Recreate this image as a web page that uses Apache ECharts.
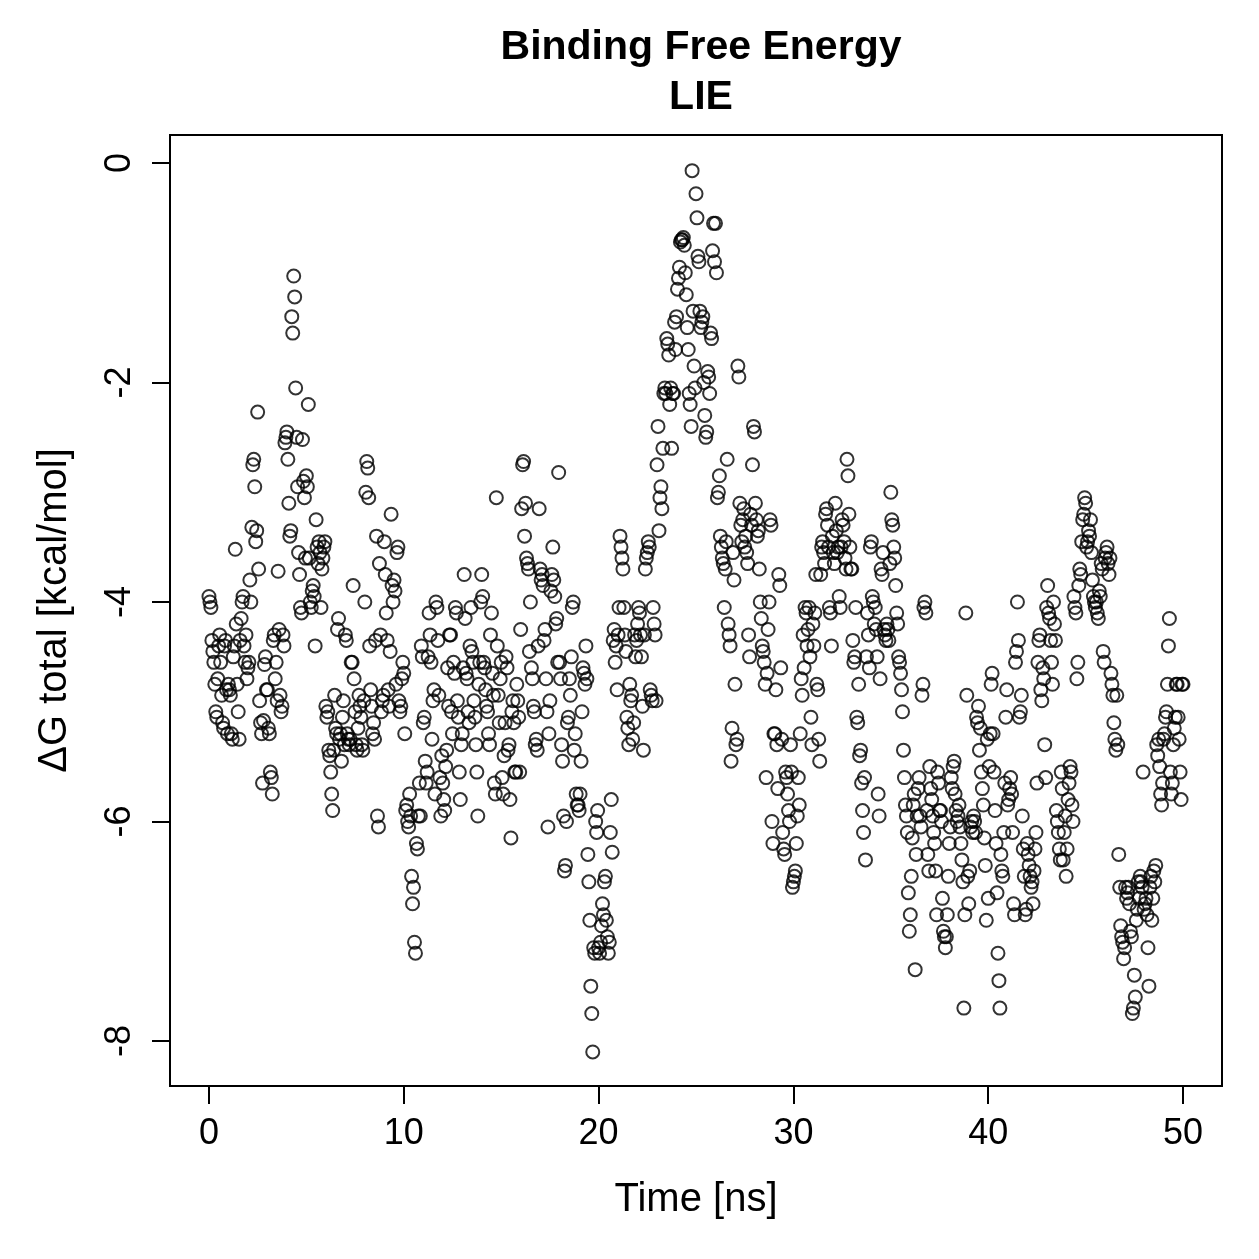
<!DOCTYPE html>
<html>
<head>
<meta charset="utf-8">
<script src="https://cdn.jsdelivr.net/npm/echarts@6/dist/echarts.min.js"></script>
<style>
  html, body { margin: 0; padding: 0; background: #fff; }
  #chart { width: 1259px; height: 1259px; }
</style>
</head>
<body>
<div id="chart"></div>
<script>
// sampling step of the trajectory (ns)
const timeStep = 0.05

// ΔG total [kcal/mol], 20 frames per ns
const dg0to10 = [
  -3.95,-4.0,-4.05,-4.35,-4.45,-4.55,-4.75,-5.0,-5.05,-4.7,-4.4,-4.3,-4.55,-4.85,-5.1,-5.15,-4.4,-4.35,-4.8,-5.2,
  -4.75,-4.8,-4.85,-5.2,-5.25,-4.5,-4.4,-3.52,-4.2,-4.75,-5.0,-5.25,-4.35,-4.15,-4.0,-3.95,-4.4,-4.55,-4.3,-4.7,
  -4.6,-4.55,-3.8,-4.0,-3.32,-2.75,-2.7,-2.95,-3.45,-3.35,-2.27,-3.7,-4.9,-5.1,-5.2,-5.65,-5.08,-4.57,-4.5,-4.8,
  -4.8,-5.15,-5.2,-5.55,-5.6,-5.75,-4.35,-4.3,-4.7,-4.55,-4.9,-3.72,-4.25,-4.85,-5.0,-4.95,-4.3,-4.4,-2.55,-2.5,
  -2.45,-2.7,-3.1,-3.4,-3.35,-1.4,-1.55,-1.03,-1.22,-2.05,-2.5,-2.95,-3.55,-3.75,-4.05,-4.1,-2.52,-2.9,-3.05,-3.6,
  -2.85,-2.95,-2.2,-3.6,-4.0,-4.05,-3.9,-3.85,-3.95,-4.4,-3.25,-3.5,-3.65,-3.45,-3.55,-4.05,-3.7,-3.6,-3.5,-3.45,
  -4.95,-5.05,-5.0,-5.35,-5.4,-5.55,-5.75,-5.9,-5.35,-4.85,-5.15,-5.2,-4.25,-4.15,-5.25,-5.2,-5.45,-5.05,-4.9,-5.3,
  -4.3,-4.35,-5.2,-5.25,-5.3,-5.25,-4.55,-4.55,-3.85,-4.7,-5.0,-5.3,-5.35,-5.15,-4.85,-4.95,-5.05,-5.3,-5.35,-4.9,
  -4.0,-3.0,-2.72,-2.78,-3.05,-4.4,-4.8,-4.95,-5.2,-5.1,-5.25,-4.35,-3.4,-5.95,-6.05,-3.65,-4.3,-5.0,-4.9,-4.85,
  -3.45,-3.75,-4.1,-4.35,-4.8,-4.95,-4.45,-3.2,-3.85,-4.0,-3.8,-3.9,-4.75,-3.55,-3.5,-4.9,-5.0,-4.95,-4.7,-4.55
]
const dg10to20 = [
  -4.65,-5.2,-5.9,-5.85,-6.0,-6.05,-5.75,-5.95,-6.5,-6.75,-6.6,-7.1,-7.2,-6.2,-6.25,-5.95,-5.65,-5.95,-4.4,-4.5,
  -5.1,-5.05,-5.45,-5.65,-5.55,-4.5,-4.1,-4.3,-4.55,-5.25,-4.9,-4.8,-5.75,-4.0,-4.05,-4.35,-4.85,-5.6,-5.95,-5.4,
  -5.65,-5.8,-5.9,-5.5,-5.35,-4.6,-4.95,-4.3,-4.3,-5.0,-5.2,-4.55,-4.65,-4.05,-4.1,-4.9,-5.05,-5.55,-5.8,-5.3,
  -5.2,-4.6,-3.75,-4.15,-4.65,-4.7,-5.0,-5.1,-4.4,-4.05,-4.45,-4.55,-4.9,-5.05,-5.3,-5.55,-5.95,-4.75,-4.55,-4.0,
  -3.75,-3.95,-4.55,-4.6,-4.8,-4.95,-5.0,-5.2,-5.3,-4.3,-4.1,-4.65,-4.85,-5.65,-5.75,-3.05,-4.4,-4.85,-5.1,-4.7,
  -4.55,-5.6,-5.75,-5.4,-5.1,-4.5,-4.6,-5.35,-5.3,-5.8,-6.15,-5.0,-4.9,-5.1,-5.55,-5.55,-4.75,-4.9,-5.05,-5.55,
  -4.25,-3.15,-2.75,-2.72,-3.4,-3.1,-3.6,-3.65,-3.7,-4.45,-4.0,-4.6,-4.7,-4.95,-5.0,-5.3,-5.25,-5.35,-4.4,-3.15,
  -3.7,-3.8,-3.75,-3.85,-4.35,-4.25,-4.7,-5.0,-6.05,-5.2,-4.9,-3.9,-3.75,-3.5,-3.8,-3.95,-4.2,-4.15,-4.55,-2.82,
  -4.55,-4.7,-5.3,-5.45,-5.95,-6.45,-6.4,-6.0,-5.1,-5.05,-4.7,-4.85,-4.5,-4.05,-4.0,-5.35,-5.2,-5.75,-5.85,-5.85,
  -5.9,-5.75,-5.45,-5.0,-4.6,-4.65,-4.75,-4.4,-4.7,-6.3,-6.55,-6.9,-7.5,-7.75,-8.1,-7.15,-7.2,-6.0,-6.1,-5.9
]
const dg20to30 = [
  -7.15,-7.2,-7.1,-6.95,-6.75,-6.85,-6.55,-6.5,-6.9,-7.05,-7.2,-7.1,-6.1,-5.8,-6.28,-4.35,-4.25,-4.55,-4.4,-4.8,
  -4.3,-4.05,-3.4,-3.5,-3.6,-3.7,-4.05,-4.3,-4.45,-5.05,-5.15,-5.3,-4.75,-4.9,-4.85,-5.25,-5.1,-4.3,-4.5,-4.35,
  -4.2,-4.05,-4.1,-4.3,-4.5,-4.95,-5.35,-4.3,-3.7,-3.6,-3.55,-3.45,-3.5,-4.8,-4.85,-4.9,-4.05,-4.2,-4.3,-4.9,
  -2.75,-2.4,-3.35,-3.05,-2.95,-3.15,-2.6,-2.1,-2.05,-2.1,-1.6,-1.65,-1.75,-2.2,-2.05,-2.6,-2.1,-2.1,-1.45,-1.7,
  -1.4,-1.15,-1.05,-0.95,-0.72,-0.7,-0.7,-0.68,-0.75,-1.0,-1.2,-1.5,-1.7,-2.1,-2.2,-2.4,-0.07,-1.35,-1.85,-2.05,
  -0.28,-0.5,-0.85,-0.9,-1.35,-1.5,-1.45,-1.4,-2.0,-2.3,-2.5,-2.45,-1.9,-1.95,-2.1,-1.55,-1.6,-0.8,-0.55,-0.9,
  -0.55,-1.0,-3.05,-3.0,-2.85,-3.4,-3.5,-3.6,-3.65,-4.05,-3.7,-3.45,-2.7,-4.2,-4.3,-4.4,-5.45,-5.15,-3.55,-3.8,
  -4.75,-5.3,-5.25,-1.85,-1.95,-3.1,-3.3,-3.45,-3.25,-3.15,-3.5,-3.4,-3.55,-3.65,-4.3,-4.5,-3.2,-3.3,-2.75,-2.4,
  -2.45,-3.1,-3.25,-3.4,-3.35,-3.7,-4.0,-4.15,-4.4,-4.45,-4.55,-4.75,-5.6,-4.65,-4.25,-4.0,-3.25,-3.3,-6.0,-6.2,
  -5.2,-5.2,-4.8,-5.3,-5.7,-3.75,-3.85,-4.6,-5.25,-6.1,-6.25,-6.3,-5.55,-5.6,-5.75,-5.9,-6.0,-5.3,-5.55,-6.6
]
const dg30to40 = [
  -6.55,-6.5,-6.45,-6.2,-5.95,-5.6,-5.85,-5.2,-4.7,-4.85,-4.3,-4.6,-4.05,-4.1,-4.4,-4.25,-4.05,-4.5,-5.05,-5.3,
  -4.2,-4.4,-4.1,-3.75,-4.75,-4.8,-5.25,-5.45,-3.75,-3.5,-3.45,-3.55,-3.65,-3.2,-3.15,-3.3,-3.5,-4.05,-4.1,-4.4,
  -3.4,-3.55,-3.65,-3.1,-3.35,-3.55,-3.5,-3.95,-4.05,-3.5,-3.25,-3.3,-3.45,-3.6,-3.7,-2.7,-2.85,-3.2,-3.5,-3.7,
  -3.7,-4.35,-4.55,-4.5,-4.05,-5.05,-5.1,-4.75,-5.4,-5.35,-5.65,-5.9,-6.1,-5.6,-6.35,-4.5,-4.1,-4.3,-4.6,-3.5,
  -3.45,-3.95,-4.0,-4.2,-4.05,-4.25,-4.5,-5.75,-5.95,-4.7,-3.7,-3.75,-3.55,-4.25,-4.3,-4.35,-4.2,-4.25,-4.35,-3.65,
  -3.0,-3.25,-3.3,-3.5,-3.6,-3.85,-4.1,-4.2,-4.5,-4.55,-4.65,-4.8,-5.0,-5.35,-5.6,-5.85,-5.95,-6.1,-6.65,-7.0,
  -6.85,-6.5,-6.15,-5.85,-5.75,-7.35,-6.3,-5.95,-5.7,-5.6,-5.95,-6.05,-4.85,-4.75,-4.05,-4.0,-4.1,-5.9,-6.3,-6.45,
  -5.5,-5.7,-5.8,-5.95,-6.1,-6.2,-6.45,-6.85,-5.55,-5.65,-5.9,-5.9,-6.0,-6.7,-7.0,-7.05,-7.15,-7.05,-6.85,-6.5,
  -6.2,-6.05,-5.6,-5.7,-5.5,-5.45,-5.75,-5.9,-6.0,-5.95,-5.85,-6.05,-6.2,-6.35,-6.55,-7.7,-6.85,-4.1,-4.85,-6.5,
  -6.75,-6.45,-6.05,-6.0,-6.1,-5.95,-6.0,-6.1,-5.05,-5.1,-4.95,-5.35,-5.15,-5.55,-5.7,-5.85,-6.15,-6.4,-6.9,-5.25
]
const dg40to50 = [
  -6.7,-5.5,-5.2,-4.75,-4.65,-5.2,-5.55,-5.9,-6.2,-6.65,-7.2,-7.45,-7.7,-6.3,-6.45,-6.5,-6.1,-5.65,-5.05,-4.8,
  -5.85,-5.8,-5.7,-5.6,-5.75,-6.1,-6.75,-6.85,-4.55,-4.45,-4.0,-4.35,-5.05,-5.0,-4.85,-5.95,-6.25,-6.5,-6.85,-6.8,
  -6.2,-6.3,-6.4,-6.5,-6.6,-6.55,-6.75,-6.45,-6.25,-6.1,-5.65,-4.55,-4.35,-4.3,-4.8,-4.9,-4.6,-4.7,-5.3,-5.6,
  -4.05,-3.85,-4.1,-4.15,-4.35,-4.55,-4.75,-4.0,-4.2,-4.35,-5.9,-6.0,-6.1,-6.25,-6.35,-5.55,-5.7,-6.35,-6.1,-5.95,
  -6.5,-6.25,-5.8,-5.65,-5.5,-5.55,-5.85,-6.0,-3.95,-4.05,-4.1,-4.7,-4.55,-3.85,-3.7,-3.75,-3.45,-3.25,-3.2,-3.05,
  -3.1,-3.5,-3.45,-3.35,-3.4,-3.25,-3.55,-3.8,-3.95,-4.0,-4.05,-4.0,-4.1,-4.15,-3.9,-3.95,-3.65,-3.7,-4.45,-4.55,
  -3.6,-3.55,-3.5,-3.65,-3.75,-3.6,-4.65,-4.75,-4.85,-5.1,-5.25,-5.35,-4.85,-5.3,-6.3,-6.6,-6.95,-7.05,-7.1,-7.25,
  -7.15,-6.6,-6.7,-6.65,-6.6,-6.75,-7.0,-7.05,-7.75,-7.7,-7.4,-7.6,-6.9,-6.8,-6.55,-6.7,-6.5,-6.55,-6.6,-5.55,
  -6.8,-6.75,-6.7,-6.85,-7.15,-7.5,-6.6,-6.5,-6.9,-6.7,-6.45,-6.55,-6.4,-5.3,-5.4,-5.25,-5.5,-5.75,-5.85,-5.65,
  -5.25,-5.2,-5.05,-5.0,-4.75,-4.4,-4.15,-5.55,-5.75,-5.65,-5.3,-5.15,-5.05,-4.75,-4.75,-5.05,-5.25,-5.55,-5.8,-4.75,
  -4.75
]

const xTicks = [0, 10, 20, 30, 40, 50]
const yTicks = [-8, -6, -4, -2, 0]

const dgAll = [].concat(dg0to10, dg10to20, dg20to30, dg30to40, dg40to50)
const points = dgAll.map((v, i) => [+(i * timeStep).toFixed(2), v])

const chart = echarts.init(document.getElementById("chart"))
const fontFamily = "Liberation Sans, Arial, Helvetica, sans-serif"

const option = {
  backgroundColor: "#fff",
  animation: false,
  title: {
    text: "Binding Free Energy\nLIE",
    left: 696,
    top: 18,
    textAlign: "center",
    textStyle: {
      fontFamily: fontFamily,
      fontSize: 41,
      fontWeight: "bold",
      color: "#000",
      lineHeight: 50
    }
  },
  grid: {
    left: 170,
    top: 135,
    width: 1052,
    height: 951,
    show: true,
    borderColor: "#000",
    borderWidth: 2,
    backgroundColor: "transparent"
  },
  xAxis: {
    type: "value",
    min: -2,
    max: 52,
    name: "Time [ns]",
    nameLocation: "middle",
    nameGap: 94,
    nameTextStyle: { fontFamily: fontFamily, fontSize: 40, color: "#000" },
    axisLine: { show: false, onZero: false },
    splitLine: { show: false },
    axisTick: {
      show: true,
      length: 18,
      lineStyle: { color: "#000", width: 2 },
      customValues: xTicks
    },
    axisLabel: {
      margin: 30,
      fontFamily: fontFamily,
      fontSize: 36,
      color: "#000",
      customValues: xTicks
    }
  },
  yAxis: {
    type: "value",
    min: -8.41,
    max: 0.255,
    name: "ΔG total [kcal/mol]",
    nameLocation: "middle",
    nameGap: 95,
    nameRotate: 90,
    nameTextStyle: { fontFamily: fontFamily, fontSize: 40, color: "#000" },
    axisLine: { show: false, onZero: false },
    splitLine: { show: false },
    axisTick: {
      show: true,
      length: 18,
      lineStyle: { color: "#000", width: 2 },
      customValues: yTicks
    },
    axisLabel: {
      rotate: 90,
      margin: 32,
      fontFamily: fontFamily,
      fontSize: 36,
      color: "#000",
      customValues: yTicks
    }
  },
  series: [
    {
      type: "scatter",
      data: points,
      symbol: "circle",
      symbolSize: 13,
      itemStyle: {
        color: "rgba(0,0,0,0)",
        borderColor: "#000",
        borderWidth: 2
      }
    }
  ]
}

chart.setOption(option)
</script>
</body>
</html>
